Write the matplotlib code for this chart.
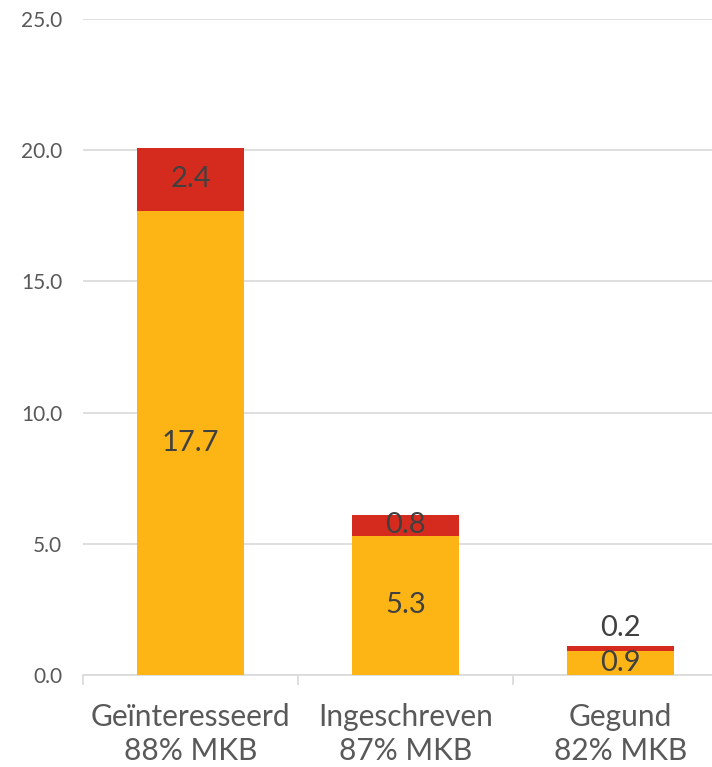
import numpy as np
import matplotlib
matplotlib.use("Agg")
import matplotlib.pyplot as plt

categories = ["Geïnteresseerd\n88% MKB", "Ingeschreven\n87% MKB", "Gegund\n82% MKB"]
mkb = [17.7, 5.3, 0.9]
overig = [2.4, 0.8, 0.2]

plt.rcParams['font.family'] = ['Lato', 'DejaVu Sans']

fig = plt.figure(figsize=(7.12, 7.67), dpi=100)
ax = fig.add_axes([83 / 712, 92 / 767, 645 / 712, 656 / 767])

x = np.arange(len(categories))
orange = '#FDB515'
red = '#D52B1E'
grid_c = '#D9D9D9'

ax.bar(x, mkb, width=0.5, color=orange, zorder=3)
ax.bar(x, overig, width=0.5, bottom=mkb, color=red, zorder=3)

# data labels centered in segments
for i in range(len(categories)):
    ax.text(x[i], mkb[i] / 2, f"{mkb[i]:.1f}", ha='center', va='center',
            fontsize=21, color='#404040', zorder=4)
    if overig[i] < 0.5:
        ax.annotate(f"{overig[i]:.1f}", (x[i], mkb[i] + overig[i]),
                    xytext=(0, 13), textcoords='offset points', ha='center',
                    va='center', fontsize=21, color='#404040', zorder=4)
    else:
        ax.text(x[i], mkb[i] + overig[i] / 2, f"{overig[i]:.1f}", ha='center',
                va='center', fontsize=21, color='#404040', zorder=4)

ax.set_xlim(-0.5, 2.5)
ax.set_ylim(0, 25)
ax.set_yticks(np.arange(0, 26, 5))
ax.set_yticklabels([f"{v:.1f}" for v in np.arange(0, 26, 5)])
ax.yaxis.grid(True, color=grid_c, linewidth=1.2, zorder=0)
ax.set_axisbelow(True)

ax.set_xticks(x)
ax.set_xticklabels(categories, fontsize=21.5, color='#595959', linespacing=1.28)
ax.set_xticks([-0.5, 0.5, 1.5, 2.5], minor=True)
ax.tick_params(axis='x', which='major', length=0, pad=20)
ax.tick_params(axis='x', which='minor', length=7, width=1.2, color=grid_c)
ax.tick_params(axis='y', length=0, labelsize=15, labelcolor='#595959', pad=15)

for s in ['top', 'right', 'left']:
    ax.spines[s].set_visible(False)
ax.spines['bottom'].set_color(grid_c)
ax.spines['bottom'].set_linewidth(1.2)

fig.savefig("out.png", dpi=100)
